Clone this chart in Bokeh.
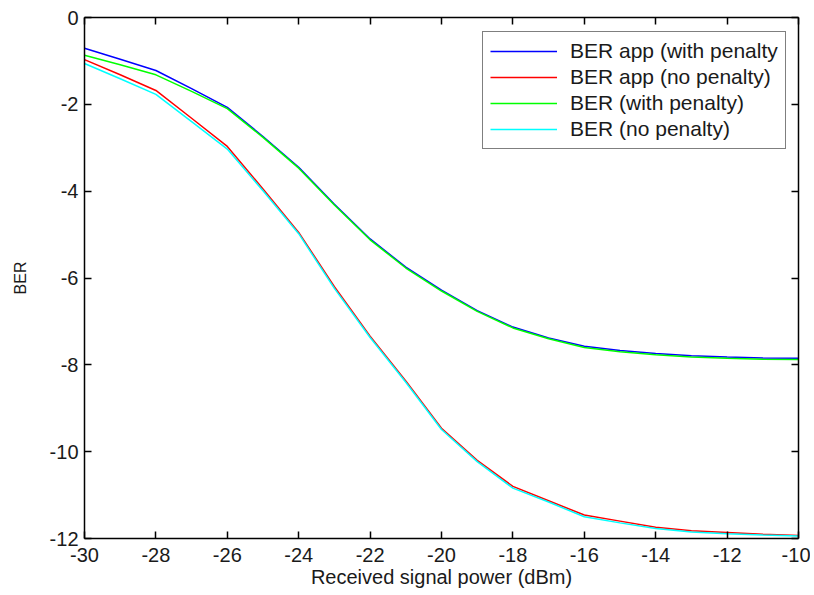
from bokeh.plotting import figure
from bokeh.models import LinearAxis, Legend, LegendItem, FixedTicker, Range1d
from bokeh.embed import file_html
from bokeh.resources import INLINE

power_dbm = [-30, -29, -28, -27, -26, -25, -24, -23, -22, -21, -20,
             -19, -18, -17, -16, -15, -14, -13, -12, -11, -10]

ber_app_with_penalty = [-0.71, -0.96, -1.22, -1.64, -2.07, -2.74, -3.45, -4.30, -5.10, -5.75, -6.28,
                        -6.75, -7.13, -7.38, -7.57, -7.67, -7.74, -7.79, -7.82, -7.84, -7.85]
ber_app_no_penalty = [-0.97, -1.32, -1.68, -2.32, -2.97, -3.95, -4.95, -6.20, -7.34, -8.37, -9.46,
                      -10.20, -10.80, -11.13, -11.46, -11.60, -11.74, -11.82, -11.86, -11.90, -11.93]
ber_with_penalty = [-0.87, -1.09, -1.32, -1.70, -2.10, -2.76, -3.47, -4.32, -5.12, -5.77, -6.30,
                    -6.77, -7.15, -7.40, -7.60, -7.70, -7.77, -7.82, -7.85, -7.87, -7.88]
ber_no_penalty = [-1.06, -1.41, -1.77, -2.40, -3.03, -3.99, -4.98, -6.24, -7.37, -8.40, -9.49,
                  -10.23, -10.84, -11.16, -11.50, -11.64, -11.77, -11.85, -11.89, -11.92, -11.94]

series_names = ["BER app (with penalty", "BER app (no penalty)", "BER (with penalty)", "BER (no penalty)"]
series_colors = ["#0000ff", "#ff0000", "#00ff00", "#00ffff"]
series_values = [ber_app_with_penalty, ber_app_no_penalty, ber_with_penalty, ber_no_penalty]

x_ticks = [-30, -28, -26, -24, -22, -20, -18, -16, -14, -12, -10]
y_ticks = [-12, -10, -8, -6, -4, -2, 0]

FONT = "Liberation Sans"

p = figure(width=810, height=594, output_backend="svg", toolbar_location=None,
           x_range=Range1d(-30, -10), y_range=Range1d(-12, 0),
           min_border_left=84, min_border_right=12, min_border_top=17, min_border_bottom=56)
p.outline_line_color = None
p.xgrid.visible = False
p.ygrid.visible = False
p.background_fill_color = "white"
p.border_fill_color = "white"

def style_axis(ax, ticks, labels=True):
    ax.ticker = FixedTicker(ticks=ticks)
    ax.axis_line_color = "black"
    ax.axis_line_width = 1.5
    ax.major_tick_line_color = "black"
    ax.major_tick_line_width = 1.5
    ax.major_tick_in = 7
    ax.major_tick_out = 0
    ax.minor_tick_line_color = None
    if labels:
        ax.major_label_overrides = {t: str(t) for t in ticks}
        ax.major_label_text_font = FONT
        ax.major_label_text_font_size = "20px"
        ax.major_label_text_color = "#1a1a1a"
        ax.major_label_standoff = 6
    else:
        ax.major_label_overrides = {t: "" for t in ticks}
        ax.major_label_standoff = 0

xa = p.xaxis[0]
style_axis(xa, x_ticks)
xa.major_label_standoff = 9
xa.axis_label = "Received signal power (dBm)"
xa.axis_label_text_font = FONT
xa.axis_label_text_font_size = "20px"
xa.axis_label_text_font_style = "normal"
xa.axis_label_text_color = "#1a1a1a"
xa.axis_label_standoff = 1

ya = p.yaxis[0]
style_axis(ya, y_ticks)
ya.axis_label = "BER"
ya.axis_label_text_font = FONT
ya.axis_label_text_font_size = "16px"
ya.axis_label_text_font_style = "normal"
ya.axis_label_text_color = "#1a1a1a"
ya.axis_label_standoff = 18

top_axis = LinearAxis()
style_axis(top_axis, x_ticks, labels=False)
p.add_layout(top_axis, "above")
right_axis = LinearAxis()
style_axis(right_axis, y_ticks, labels=False)
p.add_layout(right_axis, "right")

items = []
for name, color, vals in zip(series_names, series_colors, series_values):
    r = p.line(power_dbm, vals, line_color=color, line_width=1.5)
    items.append(LegendItem(label=name, renderers=[r]))

legend = Legend(items=items, location=(398, 389))
legend.label_text_font = FONT
legend.label_text_font_size = "21px"
legend.label_text_color = "#1a1a1a"
legend.glyph_width = 67
legend.glyph_height = 18
legend.label_height = 18
legend.label_standoff = 13
legend.spacing = 2
legend.padding = 7
legend.margin = 0
legend.border_line_color = "black"
legend.border_line_width = 1.5
legend.background_fill_color = "white"
legend.background_fill_alpha = 1
p.add_layout(legend, "center")

open("out.html", "w").write(file_html(p, INLINE))
